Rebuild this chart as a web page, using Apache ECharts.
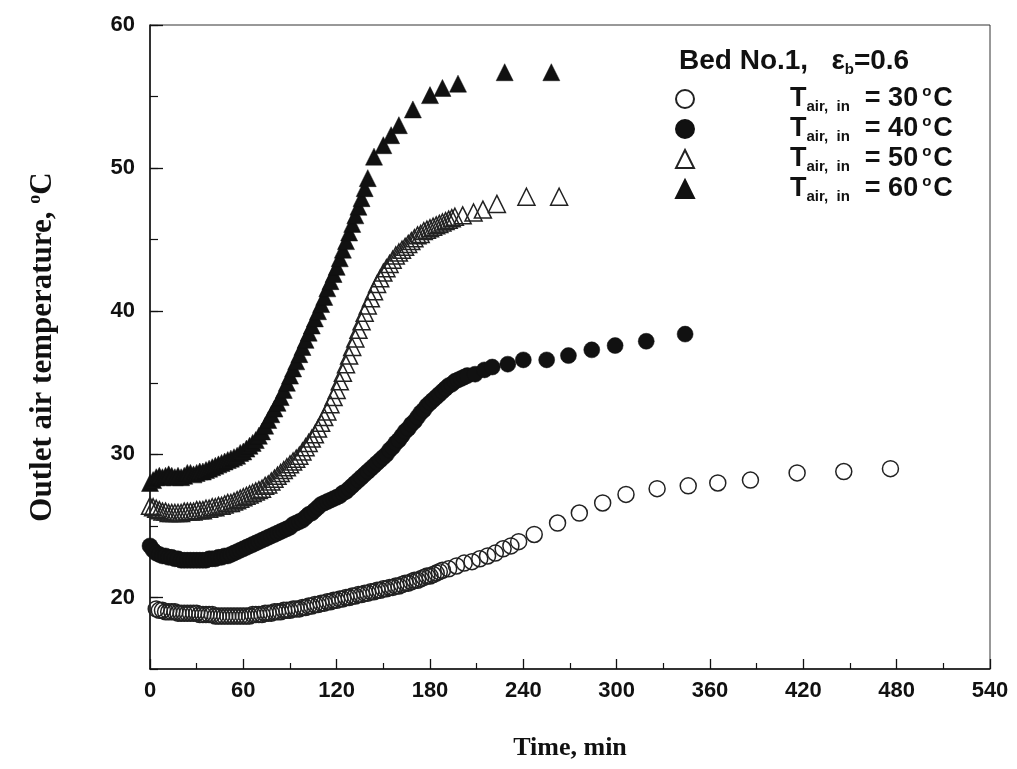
<!DOCTYPE html>
<html>
<head>
<meta charset="utf-8">
<script src="https://cdn.jsdelivr.net/npm/echarts@6/dist/echarts.min.js"></script>
<style>
  html, body { margin: 0; padding: 0; background: #ffffff; }
  #chart { width: 1017px; height: 769px; }
</style>
</head>
<body>
<div id="chart"></div>
<script>
// Inlet air temperatures shown in the legend (°C)
const inletTemps = ['30', '40', '50', '60'];
// Labelled (major) ticks of the temperature axis
const yMajorTicks = [20, 30, 40, 50, 60];

// Outlet air temperature vs time, T_air,in = 30 °C
const time30 = [4,6,8,10,12,14,16,18,20,22,24,26,28,30,32,34,36,38,40,42,44,46,48,50,52,54,56,58,60,62,
  64,66,68,70,72,74,76,78,80,82,84,86,88,90,92,94,96,98,100,102,104,106,108,110,112,114,116,118,120,122,
  124,126,128,130,132,134,136,138,140,142,144,146,148,150,152,154,156,158,160,162,164,166,168,170,172,174,176,178,180,182,
  184,186,188,192,197,202,207,212,217,222,227,232,237,247,262,276,291,306,326,346,365,386,416,446,476];
const temp30 = [19.2,19.1,19.1,19.0,19.0,19.0,19.0,18.9,18.9,18.9,
  18.9,18.9,18.9,18.9,18.8,18.8,18.8,18.8,18.8,18.7,
  18.7,18.7,18.7,18.7,18.7,18.7,18.7,18.7,18.7,18.7,
  18.7,18.8,18.8,18.8,18.8,18.9,18.9,18.9,19.0,19.0,
  19.0,19.1,19.1,19.1,19.2,19.2,19.2,19.3,19.3,19.4,
  19.4,19.5,19.5,19.6,19.6,19.7,19.7,19.8,19.8,19.9,
  19.9,20.0,20.0,20.1,20.1,20.2,20.2,20.3,20.3,20.4,
  20.4,20.5,20.5,20.6,20.6,20.7,20.7,20.8,20.8,20.9,
  21.0,21.0,21.1,21.2,21.2,21.3,21.4,21.5,21.5,21.6,
  21.7,21.8,21.9,
  22.0,22.2,22.4,22.5,22.7,22.9,23.1,23.4,23.6,23.9,24.4,25.2,25.9,26.6,27.2,27.6,27.8,28.0,28.2,28.7,28.8,29.0];

// T_air,in = 40 °C
const time40 = [0,2,4,6,8,10,12,14,16,18,20,22,24,26,28,30,32,34,36,38,40,42,44,46,48,50,52,54,56,58,
  60,62,64,66,68,70,72,74,76,78,80,82,84,86,88,90,92,94,96,98,100,102,104,106,108,110,112,114,116,118,
  120,122,124,126,128,130,132,134,136,138,140,142,144,146,148,150,152,154,156,158,160,162,164,166,168,170,172,174,176,178,
  180,182,184,186,188,190,192,194,196,198,200,202,204,209,215,220,230,240,255,269,284,299,319,344];
const temp40 = [23.6,23.3,23.1,23.0,22.9,22.9,22.8,22.8,22.7,22.7,
  22.6,22.6,22.6,22.6,22.6,22.6,22.6,22.6,22.6,22.7,
  22.7,22.7,22.8,22.8,22.9,22.9,23.0,23.1,23.2,23.3,
  23.4,23.5,23.6,23.7,23.8,23.9,24.0,24.1,24.2,24.3,
  24.4,24.5,24.6,24.7,24.8,24.9,25.1,25.2,25.3,25.4,
  25.6,25.8,25.9,26.1,26.3,26.5,26.6,26.7,26.8,26.9,
  27.0,27.1,27.3,27.4,27.6,27.8,28.0,28.2,28.4,28.6,
  28.8,29.0,29.2,29.4,29.6,29.8,30.0,30.3,30.5,30.8,
  31.0,31.3,31.6,31.8,32.1,32.3,32.6,32.9,33.1,33.4,
  33.6,33.8,34.0,34.2,34.4,34.6,34.8,34.9,35.1,35.2,
  35.3,35.4,35.5,
  35.6,35.9,36.1,36.3,36.6,36.6,36.9,37.3,37.6,37.9,38.4];

// T_air,in = 50 °C
const time50 = [0,2,4,6,8,10,12,14,16,18,20,22,24,26,28,30,32,34,36,38,40,42,44,46,48,50,52,54,56,58,
  60,62,64,66,68,70,72,74,76,78,80,82,84,86,88,90,92,94,96,98,100,102,104,106,108,110,112,114,116,118,
  120,122,124,126,128,130,132,134,136,138,140,142,144,146,148,150,152,154,156,158,160,162,164,166,168,170,172,174,176,178,
  180,182,184,186,188,190,192,194,196,201,208,214,223,242,263];
const temp50 = [26.4,26.3,26.2,26.1,26.0,26.0,25.9,25.9,25.9,25.9,
  25.9,26.0,26.0,26.0,26.0,26.1,26.1,26.1,26.2,26.2,
  26.3,26.3,26.4,26.4,26.5,26.6,26.6,26.7,26.8,26.9,
  27.0,27.1,27.2,27.3,27.4,27.5,27.6,27.8,27.9,28.1,
  28.3,28.5,28.7,28.9,29.1,29.3,29.5,29.7,29.9,30.2,
  30.5,30.8,31.1,31.4,31.8,32.2,32.6,33.0,33.5,34.0,
  34.5,35.1,35.7,36.3,36.9,37.5,38.1,38.7,39.3,39.9,
  40.4,40.9,41.4,41.9,42.3,42.7,43.0,43.3,43.6,43.9,
  44.1,44.3,44.5,44.7,44.9,45.1,45.3,45.4,45.6,45.7,
  45.8,45.9,46.0,46.1,46.2,46.3,46.4,46.5,46.6,
  46.7,46.9,47.1,47.5,48.0,48.0];

// T_air,in = 60 °C
const time60 = [0,2,4,6,8,10,12,14,16,18,20,22,24,26,28,30,32,34,36,38,40,42,44,46,48,50,52,54,56,58,
  60,62,64,66,68,70,72,74,76,78,80,82,84,86,88,90,92,94,96,98,100,102,104,106,108,110,112,114,116,118,
  120,122,124,126,128,130,132,134,136,138,140,144,150,155,160,169,180,188,198,228,258];
const temp60 = [28.0,28.2,28.4,28.5,28.4,28.5,28.6,28.5,28.4,28.5,
  28.4,28.5,28.7,28.7,28.6,28.7,28.8,28.8,28.9,29.0,
  29.1,29.2,29.3,29.4,29.5,29.6,29.7,29.8,29.9,30.1,
  30.2,30.4,30.6,30.8,31.0,31.3,31.6,32.0,32.4,32.8,
  33.2,33.6,34.0,34.5,35.0,35.5,36.0,36.5,37.0,37.5,
  38.0,38.5,39.0,39.5,40.0,40.5,41.0,41.6,42.1,42.6,
  43.1,43.7,44.3,44.9,45.5,46.1,46.7,47.3,47.9,48.6,
  49.3,
  50.8,51.6,52.3,53.0,54.1,55.1,55.6,55.9,56.7,56.7];

const pairs = (ts, vs) => ts.map((t, i) => [t, vs[i]]);

const INK = '#111111';
const openStyle = { color: 'rgba(255,255,255,0)', borderColor: '#222222', borderWidth: 1.5, opacity: 1 };
const fillStyle = { color: INK, borderColor: INK, borderWidth: 0.5, opacity: 1 };

const sansBold = { fontFamily: 'Liberation Sans, Arial, sans-serif', fontWeight: 'bold', color: INK };
const serifBold = { fontFamily: 'Liberation Serif, Times New Roman, serif', fontWeight: 'bold', color: INK };

const chart = echarts.init(document.getElementById('chart'), null, { renderer: 'canvas' });

chart.setOption({
  animation: false,
  backgroundColor: '#ffffff',
  title: {
    left: 674,
    top: 40,
    text: '{a|Bed No.1,   \u03b5}{s|b}{a|=0.6}',
    textStyle: {
      rich: {
        a: Object.assign({ fontSize: 28, lineHeight: 32, verticalAlign: 'middle' }, sansBold),
        s: Object.assign({ fontSize: 15, lineHeight: 32, verticalAlign: 'bottom' }, sansBold)
      }
    }
  },
  legend: {
    orient: 'vertical',
    left: 670,
    top: 79,
    itemWidth: 18,
    itemHeight: 18,
    itemGap: 0,
    selectedMode: false,
    data: inletTemps,
    formatter: name => '{t|T}{s|air,  in}{t|  = ' + name + '}{o|o}{t|C}',
    textStyle: {
      padding: [0, 0, 0, 91],
      rich: {
        t: Object.assign({ fontSize: 27, lineHeight: 30, verticalAlign: 'middle' }, sansBold),
        s: Object.assign({ fontSize: 15, lineHeight: 30, verticalAlign: 'bottom' }, sansBold),
        o: Object.assign({ fontSize: 15, lineHeight: 30, verticalAlign: 'top', padding: [0, 2, 0, 4] }, sansBold)
      }
    }
  },
  grid: {
    left: 150, right: 27, top: 25, bottom: 100,
    show: true, borderColor: '#333333', borderWidth: 1
  },
  xAxis: {
    type: 'value',
    min: 0, max: 540, interval: 60,
    name: 'Time, min',
    nameLocation: 'middle',
    nameGap: 66,
    nameTextStyle: Object.assign({ fontSize: 26 }, serifBold),
    axisLine: { show: true, lineStyle: { color: INK, width: 1.5 } },
    axisTick: { show: true, inside: true, length: 10, lineStyle: { color: INK, width: 1.3 } },
    minorTick: { show: true, splitNumber: 2, length: 6, lineStyle: { color: INK, width: 1.2 } },
    axisLabel: Object.assign({ fontSize: 22, margin: 11 }, sansBold),
    splitLine: { show: false }
  },
  yAxis: [
    {
      type: 'value',
      position: 'left',
      min: 15, max: 60, interval: 5,
      name: '{a|Outlet air temperature, }{o|o}{a|C}',
      nameLocation: 'middle',
      nameGap: 90,
      nameTextStyle: {
        rich: {
          a: Object.assign({ fontSize: 31, lineHeight: 34, verticalAlign: 'middle' }, serifBold),
          o: Object.assign({ fontSize: 18, lineHeight: 34, verticalAlign: 'top' }, serifBold)
        }
      },
      axisLine: { show: true, lineStyle: { color: INK, width: 1.5 } },
      axisTick: { show: true, inside: true, length: 8, lineStyle: { color: INK, width: 1.2 } },
      axisLabel: Object.assign({
        fontSize: 22, margin: 15,
        customValues: yMajorTicks
      }, sansBold),
      splitLine: { show: false }
    },
    {
      // second copy of the temperature axis: longer ticks at the labelled values
      type: 'value',
      position: 'left',
      min: 15, max: 60, interval: 5,
      axisLine: { show: false },
      axisTick: { show: true, inside: true, length: 13, customValues: yMajorTicks,
                  lineStyle: { color: INK, width: 1.3 } },
      axisLabel: { show: false },
      splitLine: { show: false }
    }
  ],
  series: [
    { name: '30', type: 'scatter', symbol: 'circle', symbolSize: 16, itemStyle: openStyle, data: pairs(time30, temp30) },
    { name: '40', type: 'scatter', symbol: 'circle', symbolSize: 16, itemStyle: fillStyle, data: pairs(time40, temp40) },
    { name: '50', type: 'scatter', symbol: 'triangle', symbolSize: 17, itemStyle: openStyle, data: pairs(time50, temp50) },
    { name: '60', type: 'scatter', symbol: 'triangle', symbolSize: 17, itemStyle: fillStyle, data: pairs(time60, temp60) }
  ]
});
</script>
</body>
</html>
